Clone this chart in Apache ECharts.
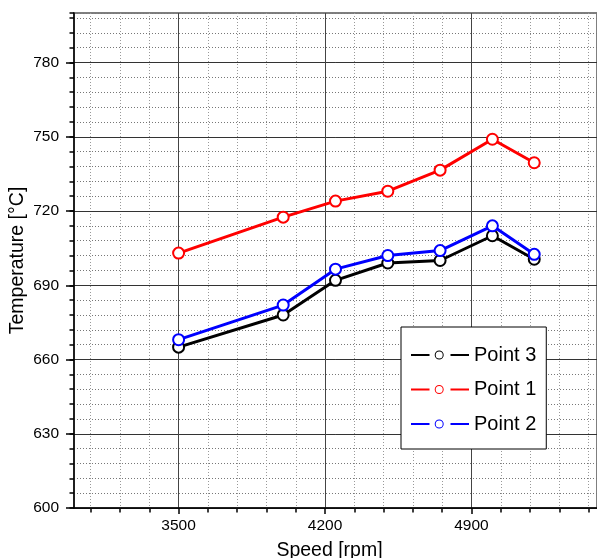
<!DOCTYPE html>
<html>
<head>
<meta charset="utf-8">
<script src="https://cdn.jsdelivr.net/npm/echarts@6/dist/echarts.min.js"></script>
<style>
    html, body { margin: 0; padding: 0; background: #fff; }
    #chart { width: 597px; height: 558px; }
</style>
</head>
<body>
<div id="chart"></div>
<script>
// 转速 [rpm]
var speed = [3500, 4000, 4250, 4500, 4750, 5000, 5200];
// 各测点温度 [°C]
var point3 = [665, 678, 692, 699, 700, 710, 700.5];
var point1 = [703, 717.5, 724, 728, 736.5, 749, 739.5];
var point2 = [668, 682, 696.5, 702, 704, 714, 702.5];
// 刻度
var speedTicks = [3500, 4200, 4900];
var tempTicks = [600, 630, 660, 690, 720, 750, 780];

var font = 'Liberation Sans, Arial, sans-serif';

// 图例图标: 线 - 空心圆 - 线 (58 x 9)
var legendIcon = 'path://M0 3.5H18.5V5.5H0Z' +
    'M23.7 4.5A4.5 4.5 0 1 0 32.7 4.5A4.5 4.5 0 1 0 23.7 4.5Z' +
    'M24.7 4.5A3.5 3.5 0 1 1 31.7 4.5A3.5 3.5 0 1 1 24.7 4.5Z' +
    'M39.5 3.5H58V5.5H39.5Z';

// 次刻度: 每 140 rpm 一条
var speedMinor = [];
for (var v = 3080; v < 5500; v += 140) {
    if (speedTicks.indexOf(v) < 0) speedMinor.push(v);
}

function pairs(xs, ys) {
    var out = [];
    for (var i = 0; i < xs.length; i++) out.push([xs[i], ys[i]]);
    return out;
}

function plain(v) {
    return String(v);
}

function lineSeries(name, color, data) {
    return {
        name: name,
        type: 'line',
        xAxisIndex: 0,
        yAxisIndex: 0,
        data: pairs(speed, data),
        symbol: 'emptyCircle',
        symbolSize: 11,
        z: 3,
        lineStyle: { color: color, width: 3 },
        itemStyle: { color: color, borderColor: color, borderWidth: 1.3 }
    };
}

function legendItem(name, color) {
    return {
        name: name,
        icon: legendIcon,
        itemStyle: { color: color, borderWidth: 0 }
    };
}

var chart = echarts.init(document.getElementById('chart'));
var option = {
    animation: false,
    backgroundColor: '#fff',
    grid: {
        left: 74, right: 0, top: 13, bottom: 50,
        outerBoundsMode: 'none',
        containLabel: false,
        show: true,
        borderColor: '#555',
        borderWidth: 1.5,
        backgroundColor: 'transparent'
    },
    legend: {
        orient: 'vertical',
        left: 401,
        top: 327,
        padding: [18, 10, 15, 10],
        itemGap: 14.5,
        itemWidth: 58,
        itemHeight: 9,
        backgroundColor: '#fff',
        borderColor: '#000',
        borderWidth: 1,
        selectedMode: false,
        textStyle: { fontFamily: font, fontSize: 20, lineHeight: 20, color: '#000' },
        data: [
            legendItem('Point 3', '#000000'),
            legendItem('Point 1', '#ff0000'),
            legendItem('Point 2', '#0000ff')
        ]
    },
    xAxis: [
        {
            type: 'value',
            min: 3000, max: 5500,
            z: 1,
            name: 'Speed [rpm]',
            nameLocation: 'middle',
            nameGap: 33,
            nameMoveOverlap: false,
            nameTextStyle: { fontFamily: font, fontSize: 19.5, color: '#000', padding: [0, 12, 0, 0] },
            axisLine: { show: true, lineStyle: { color: '#000', width: 1.5 } },
            axisTick: { show: true, inside: false, length: 6, customValues: speedTicks, lineStyle: { color: '#000', width: 1.5 } },
            axisLabel: { fontFamily: font, fontSize: 15.5, color: '#000', margin: 10, customValues: speedTicks, formatter: plain },
            splitLine: { show: true, lineStyle: { color: '#444', width: 1 } }
        },
        {
            type: 'value',
            min: 3000, max: 5500,
            position: 'bottom',
            z: 0,
            axisLine: { show: false },
            axisTick: { show: true, inside: false, length: 4.5, customValues: speedMinor, lineStyle: { color: '#000', width: 1.5 } },
            axisLabel: { show: false },
            splitLine: { show: true, lineStyle: { color: '#999', width: 1, type: [1, 2] } }
        }
    ],
    yAxis: [
        {
            type: 'value',
            min: 600, max: 800,
            z: 1,
            name: 'Temperature [°C]',
            nameLocation: 'middle',
            nameGap: 46,
            nameMoveOverlap: false,
            nameTextStyle: { fontFamily: font, fontSize: 19.5, color: '#000' },
            axisLine: { show: true, lineStyle: { color: '#000', width: 1.5 } },
            axisTick: { show: true, inside: false, length: 8, customValues: tempTicks, lineStyle: { color: '#000', width: 1.5 } },
            axisLabel: { fontFamily: font, fontSize: 15.5, color: '#000', margin: 15, customValues: tempTicks, formatter: plain },
            splitLine: { show: true, lineStyle: { color: '#333', width: 1 } }
        },
        {
            type: 'value',
            min: 600, max: 800,
            interval: 6,
            position: 'left',
            z: 0,
            axisLine: { show: false },
            axisTick: { show: true, inside: false, length: 4.5, lineStyle: { color: '#000', width: 1.5 } },
            axisLabel: { show: false },
            splitLine: { show: true, lineStyle: { color: '#777', width: 1, type: [1, 2] } }
        }
    ],
    series: [
        lineSeries('Point 3', '#000000', point3),
        lineSeries('Point 1', '#ff0000', point1),
        lineSeries('Point 2', '#0000ff', point2)
    ]
};
chart.setOption(option);
</script>
</body>
</html>
